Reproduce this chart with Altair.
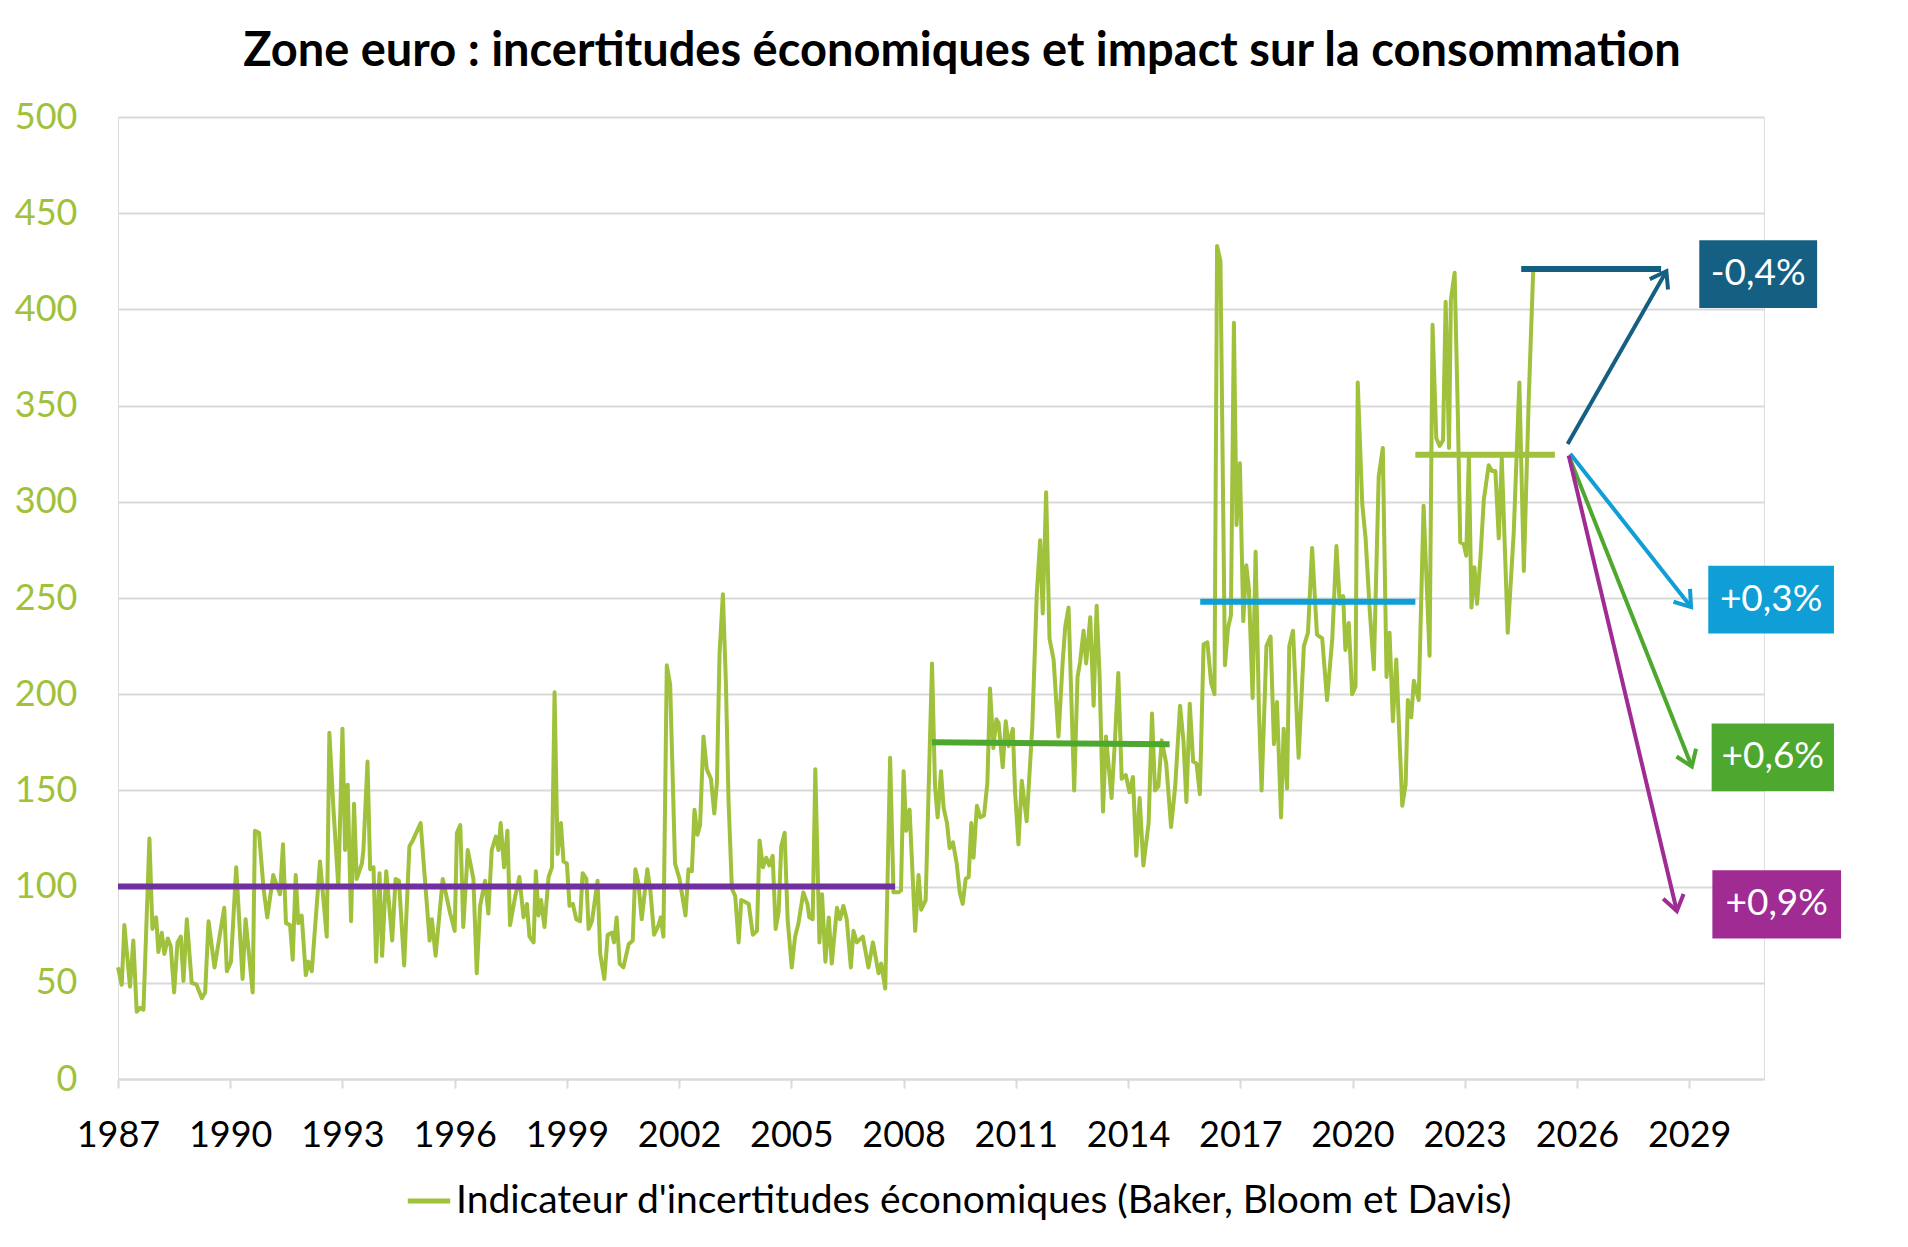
import math
import altair as alt
import pandas as pd

# ---------------- data ----------------
years = [
    1987.00, 1987.10, 1987.17, 1987.32, 1987.41, 1987.50, 1987.59, 1987.68, 1987.84, 1987.92,
    1988.02, 1988.08, 1988.17, 1988.24, 1988.33, 1988.41, 1988.50, 1988.59, 1988.68, 1988.75,
    1988.84, 1988.97, 1989.10, 1989.24, 1989.33, 1989.42, 1989.58, 1989.84, 1989.91, 1990.02,
    1990.16, 1990.33, 1990.41, 1990.60, 1990.66, 1990.77, 1990.89, 1990.99, 1991.15, 1991.33,
    1991.41, 1991.49, 1991.60, 1991.67, 1991.75, 1991.82, 1991.91, 1992.02, 1992.09, 1992.18,
    1992.40, 1992.58, 1992.65, 1992.76, 1992.89, 1993.00, 1993.07, 1993.14, 1993.23, 1993.31,
    1993.38, 1993.52, 1993.56, 1993.67, 1993.74, 1993.83, 1993.90, 1993.99, 1994.06, 1994.17,
    1994.33, 1994.42, 1994.51, 1994.65, 1994.79, 1994.88, 1995.09, 1995.18, 1995.33, 1995.39,
    1995.49, 1995.68, 1995.88, 1996.00, 1996.06, 1996.15, 1996.23, 1996.35, 1996.50, 1996.59,
    1996.68, 1996.81, 1996.90, 1996.99, 1997.10, 1997.17, 1997.23, 1997.32, 1997.41, 1997.48,
    1997.62, 1997.73, 1997.84, 1997.93, 1998.00, 1998.11, 1998.17, 1998.24, 1998.31, 1998.40,
    1998.51, 1998.60, 1998.67, 1998.75, 1998.84, 1998.91, 1999.00, 1999.07, 1999.16, 1999.25,
    1999.35, 1999.42, 1999.52, 1999.58, 1999.67, 1999.82, 1999.89, 2000.00, 2000.09, 2000.20,
    2000.26, 2000.33, 2000.41, 2000.51, 2000.65, 2000.76, 2000.83, 2000.91, 2001.00, 2001.15,
    2001.23, 2001.33, 2001.45, 2001.51, 2001.58, 2001.67, 2001.76, 2001.89, 2002.01, 2002.17,
    2002.25, 2002.34, 2002.41, 2002.49, 2002.56, 2002.65, 2002.74, 2002.85, 2002.94, 2003.01,
    2003.08, 2003.17, 2003.25, 2003.32, 2003.41, 2003.50, 2003.59, 2003.66, 2003.77, 2003.86,
    2003.97, 2004.08, 2004.15, 2004.24, 2004.33, 2004.41, 2004.50, 2004.58, 2004.66, 2004.73,
    2004.82, 2004.90, 2005.01, 2005.10, 2005.19, 2005.32, 2005.43, 2005.48, 2005.57, 2005.64,
    2005.75, 2005.82, 2005.91, 2006.00, 2006.08, 2006.22, 2006.30, 2006.39, 2006.48, 2006.59,
    2006.66, 2006.75, 2006.91, 2007.06, 2007.18, 2007.33, 2007.40, 2007.51, 2007.64, 2007.73,
    2007.86, 2007.93, 2008.00, 2008.07, 2008.16, 2008.31, 2008.40, 2008.47, 2008.59, 2008.76,
    2008.84, 2008.91, 2009.00, 2009.07, 2009.16, 2009.23, 2009.32, 2009.42, 2009.50, 2009.58,
    2009.66, 2009.74, 2009.81, 2009.87, 2009.96, 2010.05, 2010.15, 2010.24, 2010.31, 2010.40,
    2010.48, 2010.54, 2010.65, 2010.73, 2010.81, 2010.92, 2010.98, 2011.07, 2011.16, 2011.29,
    2011.44, 2011.56, 2011.65, 2011.72, 2011.81, 2011.90, 2012.01, 2012.14, 2012.25, 2012.32,
    2012.41, 2012.56, 2012.65, 2012.72, 2012.81, 2012.88, 2012.99, 2013.08, 2013.16, 2013.24,
    2013.33, 2013.41, 2013.56, 2013.65, 2013.74, 2013.83, 2013.94, 2014.04, 2014.13, 2014.22,
    2014.31, 2014.41, 2014.55, 2014.64, 2014.72, 2014.81, 2014.90, 2015.02, 2015.15, 2015.26,
    2015.39, 2015.48, 2015.56, 2015.65, 2015.74, 2015.83, 2015.92, 2016.02, 2016.12, 2016.22,
    2016.31, 2016.38, 2016.47, 2016.59, 2016.67, 2016.75, 2016.83, 2016.90, 2016.99, 2017.08,
    2017.16, 2017.23, 2017.33, 2017.41, 2017.50, 2017.57, 2017.70, 2017.81, 2017.90, 2017.98,
    2018.09, 2018.16, 2018.25, 2018.31, 2018.41, 2018.56, 2018.70, 2018.81, 2018.92, 2019.05,
    2019.19, 2019.32, 2019.46, 2019.57, 2019.66, 2019.75, 2019.81, 2019.90, 2019.99, 2020.08,
    2020.14, 2020.26, 2020.35, 2020.46, 2020.57, 2020.70, 2020.81, 2020.91, 2020.99, 2021.08,
    2021.17, 2021.33, 2021.42, 2021.48, 2021.57, 2021.64, 2021.77, 2021.90, 2022.06, 2022.14,
    2022.24, 2022.33, 2022.42, 2022.49, 2022.58, 2022.63, 2022.73, 2022.81, 2022.88, 2022.97,
    2023.04, 2023.11, 2023.18, 2023.26, 2023.33, 2023.42, 2023.51, 2023.64, 2023.73, 2023.82,
    2023.91, 2023.99, 2024.15, 2024.31, 2024.46, 2024.58, 2024.71, 2024.83,
]
values = [
    58, 49, 80, 48, 72, 35, 37, 36, 125, 78,
    84, 66, 76, 65, 73, 69, 45, 71, 74, 51,
    83, 50, 49, 42, 45, 82, 58, 89, 56, 61,
    110, 52, 83, 45, 129, 128, 99, 84, 106, 96,
    122, 81, 80, 62, 106, 81, 85, 54, 61, 56,
    113, 74, 180, 140, 100, 182, 119, 153, 82, 143,
    104, 112, 119, 165, 109, 110, 61, 107, 64, 108,
    72, 104, 103, 59, 121, 124, 133, 110, 72, 83,
    64, 104, 86, 77, 128, 132, 79, 119, 104, 55,
    90, 103, 86, 119, 126, 119, 133, 110, 129, 80,
    95, 105, 84, 91, 74, 71, 108, 85, 93, 79,
    105, 110, 201, 117, 133, 113, 112, 90, 91, 83,
    82, 107, 104, 78, 82, 103, 65, 52, 75, 76,
    71, 84, 60, 58, 70, 72, 109, 102, 83, 109,
    98, 75, 80, 84, 74, 215, 205, 112, 104, 85,
    109, 108, 140, 127, 132, 178, 161, 156, 138, 154,
    221, 252, 206, 145, 99, 95, 71, 93, 92, 91,
    75, 77, 124, 110, 115, 111, 116, 78, 87, 121,
    128, 83, 58, 74, 81, 97, 91, 84, 83, 161,
    71, 96, 61, 84, 60, 89, 83, 90, 83, 58,
    77, 71, 74, 58, 71, 55, 60, 47, 167, 97,
    97, 98, 160, 129, 140, 77, 106, 88, 93, 216,
    152, 136, 160, 141, 133, 120, 123, 112, 97, 91,
    104, 105, 133, 115, 142, 136, 137, 154, 203, 172,
    187, 185, 162, 186, 173, 182, 149, 122, 155, 134,
    183, 252, 280, 242, 305, 229, 218, 178, 216, 235,
    245, 150, 209, 217, 233, 216, 240, 194, 246, 209,
    139, 178, 146, 176, 211, 156, 158, 149, 157, 116,
    146, 111, 133, 190, 150, 152, 176, 164, 131, 152,
    194, 176, 144, 195, 165, 164, 148, 226, 227, 206,
    200, 433, 425, 215, 234, 241, 393, 288, 320, 238,
    267, 255, 198, 274, 191, 150, 225, 230, 174, 196,
    136, 182, 151, 225, 233, 167, 225, 232, 276, 231,
    229, 197, 229, 277, 247, 251, 223, 237, 200, 204,
    362, 299, 281, 244, 213, 313, 328, 209, 232, 186,
    218, 142, 153, 197, 188, 207, 197, 298, 220, 392,
    333, 329, 332, 404, 328, 405, 419, 351, 279, 278,
    272, 323, 245, 266, 247, 271, 301, 319, 316, 316,
    281, 323, 232, 284, 362, 264, 353, 420,
]
series_name = "Indicateur d'incertitudes économiques (Baker, Bloom et Davis)"

# average levels per period
mean_start = [1987.0, 2008.76, 2015.93, 2021.68, 2024.51]
mean_end = [2007.77, 2015.11, 2021.68, 2025.41, 2028.25]
mean_level_start = [100, 175, 248, 324.5, 421]
mean_level_end = [100, 174, 248, 324.5, 421]

# scenario arrows and labels
arrow_x0 = [2025.75, 2025.82, 2025.78, 2025.78]
arrow_y0 = [330, 325, 324, 324]
arrow_x1 = [2028.39, 2029.05, 2029.07, 2028.67]
arrow_y1 = [419.8, 245.3, 162.4, 87.3]
scenario_labels = ["-0,4%", "+0,3%", "+0,6%", "+0,9%"]
box_x0 = [2029.27, 2029.51, 2029.60, 2029.62]
box_x1 = [2032.42, 2032.87, 2032.87, 2033.06]
box_y0 = [400.7, 231.5, 149.5, 73.0]
box_y1 = [436.0, 266.8, 184.8, 108.5]

x_ticks = list(range(1987, 2030, 3))
y_ticks = list(range(0, 501, 50))

# ---------------- styles ----------------
W, H = 1646, 962
X_DOMAIN = [1987, 2031]
Y_DOMAIN = [0, 500]
GREEN_SERIES = "#9FC13B"
mean_colors = ["#7030A0", "#4EA72E", "#0F9ED5", GREEN_SERIES, "#156082"]
scenario_colors = ["#156082", "#0F9ED5", "#4EA72E", "#A02B93"]
FONT = "Lato"
CHEVRON = "M-0.7,1L0,0L0.7,1"

xs = alt.Scale(domain=X_DOMAIN, nice=False, zero=False)
ys = alt.Scale(domain=Y_DOMAIN, nice=False, zero=False)

series_df = pd.DataFrame({"annee": years, "valeur": values, "serie": series_name})

series = alt.Chart(series_df).mark_line(strokeWidth=4, strokeJoin="round").encode(
    x=alt.X("annee:Q", scale=xs, title=None,
            axis=alt.Axis(values=x_ticks, format="d", labelFontSize=36, labelFont=FONT,
                          labelColor="black", tickColor="#d9d9d9", tickSize=9, tickWidth=2,
                          domainColor="#d9d9d9", domainWidth=2, labelPadding=30, grid=False,
                          labelFlush=False, labelOverlap=False)),
    y=alt.Y("valeur:Q", scale=ys, title=None,
            axis=alt.Axis(values=y_ticks, labelFontSize=36, labelFont=FONT,
                          labelColor=GREEN_SERIES, ticks=False, domain=False,
                          labelPadding=41, gridColor="#d9d9d9", gridWidth=2)),
    color=alt.Color("serie:N", scale=alt.Scale(domain=[series_name], range=[GREEN_SERIES]),
                    legend=alt.Legend(title=None, orient="none", legendX=287, legendY=1060,
                                      symbolType="stroke", symbolStrokeWidth=5, symbolSize=1800,
                                      labelFontSize=39, labelFont=FONT, labelColor="black",
                                      labelLimit=0, labelOffset=3)),
    order="annee:Q",
)

layers = [series]

for i in range(len(mean_start)):
    d = pd.DataFrame({"annee": [mean_start[i], mean_end[i]],
                      "valeur": [mean_level_start[i], mean_level_end[i]]})
    layers.append(alt.Chart(d).mark_line(strokeWidth=6, color=mean_colors[i], strokeCap="butt").encode(
        x=alt.X("annee:Q", scale=xs), y=alt.Y("valeur:Q", scale=ys)))

px_year = W / (X_DOMAIN[1] - X_DOMAIN[0])
px_val = H / (Y_DOMAIN[1] - Y_DOMAIN[0])

for i in range(len(arrow_x0)):
    d = pd.DataFrame({"annee": [arrow_x0[i], arrow_x1[i]], "valeur": [arrow_y0[i], arrow_y1[i]]})
    layers.append(alt.Chart(d).mark_line(strokeWidth=4, color=scenario_colors[i]).encode(
        x=alt.X("annee:Q", scale=xs), y=alt.Y("valeur:Q", scale=ys)))
    dx = (arrow_x1[i] - arrow_x0[i]) * px_year
    dy = -(arrow_y1[i] - arrow_y0[i]) * px_val
    ang = math.degrees(math.atan2(dx, -dy)) % 360
    h = pd.DataFrame({"annee": [arrow_x1[i]], "valeur": [arrow_y1[i]]})
    layers.append(alt.Chart(h).mark_point(shape=CHEVRON, filled=False, size=900, strokeWidth=4,
                                          color=scenario_colors[i], angle=ang, opacity=1).encode(
        x=alt.X("annee:Q", scale=xs), y=alt.Y("valeur:Q", scale=ys)))

for i in range(len(scenario_labels)):
    b = pd.DataFrame({"x0": [box_x0[i]], "x1": [box_x1[i]], "y0": [box_y0[i]], "y1": [box_y1[i]],
                      "xm": [(box_x0[i] + box_x1[i]) / 2], "ym": [(box_y0[i] + box_y1[i]) / 2],
                      "lab": [scenario_labels[i]]})
    layers.append(alt.Chart(b).mark_rect(color=scenario_colors[i]).encode(
        x=alt.X("x0:Q", scale=xs), x2="x1:Q", y=alt.Y("y0:Q", scale=ys), y2="y1:Q"))
    layers.append(alt.Chart(b).mark_text(color="white", fontSize=37, font=FONT,
                                         baseline="middle", align="center").encode(
        x=alt.X("xm:Q", scale=xs), y=alt.Y("ym:Q", scale=ys), text="lab:N"))

chart = alt.layer(*layers).properties(
    width=W, height=H,
    title=alt.Title("Zone euro : incertitudes économiques et impact sur la consommation",
                    font=FONT, fontSize=47, fontWeight="bold", color="black",
                    anchor="middle", dx=21, offset=23),
    autosize=alt.AutoSizeParams(type="none"),
    padding={"left": 118, "top": 117, "right": 144, "bottom": 168},
).configure_view(stroke=None).configure(background="white")

chart.save("out.html", embed_options={"renderer": "svg", "actions": False})
